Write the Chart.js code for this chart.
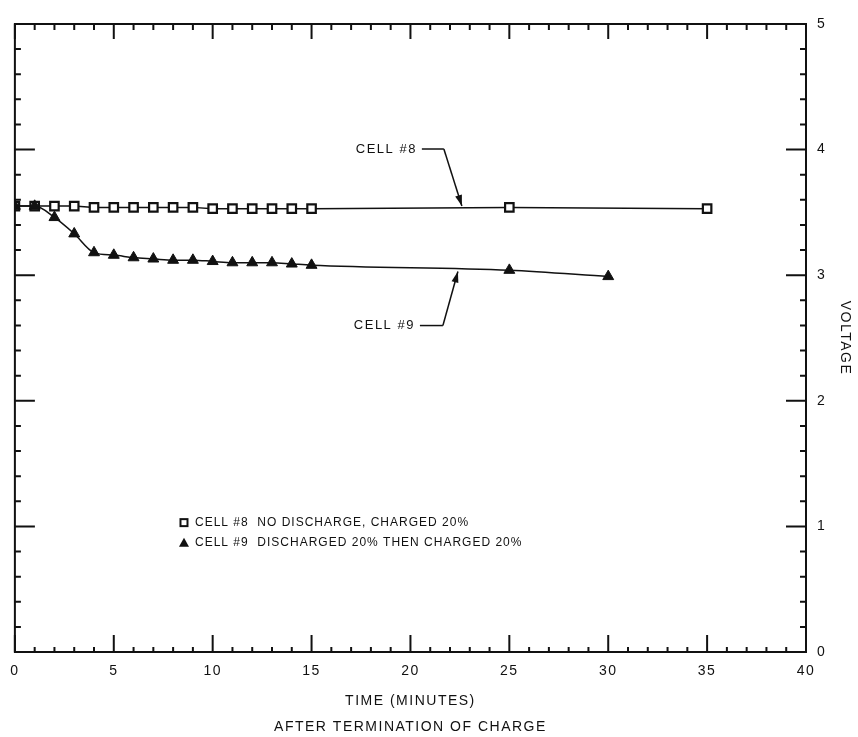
<!DOCTYPE html>
<html><head><meta charset="utf-8">
<script src="https://cdn.jsdelivr.net/npm/chart.js@4"></script>
<style>html,body{margin:0;padding:0;background:#fff;}#wrap{width:858px;height:737px;}</style>
</head><body><div id="wrap"><canvas id="c" width="858" height="737"></canvas></div>
<script>
// ---- data ----
const cell8Minutes = [0,1,2,3,4,5,6,7,8,9,10,11,12,13,14,15,25,35];
const cell8Volts   = [3.55,3.55,3.55,3.55,3.54,3.54,3.54,3.54,3.54,3.54,3.53,3.53,3.53,3.53,3.53,3.53,3.54,3.53];
const cell9Minutes = [0,1,2,3,4,5,6,7,8,9,10,11,12,13,14,15,25,30];
const cell9Volts   = [3.55,3.55,3.46,3.33,3.18,3.16,3.14,3.13,3.12,3.12,3.11,3.10,3.10,3.10,3.09,3.08,3.04,2.99];
const xTickValues = [0,5,10,15,20,25,30,35,40];
const yTickValues = [0,1,2,3,4,5];
const legendLabels = ['CELL #8  NO DISCHARGE, CHARGED 20%', 'CELL #9  DISCHARGED 20% THEN CHARGED 20%'];
const calloutLabels = ['CELL #8', 'CELL #9'];
const xTitle = ['TIME (MINUTES)', 'AFTER TERMINATION OF CHARGE'];
const yTitle = 'VOLTAGE';

const FONT = '"Liberation Sans", Arial, Helvetica, sans-serif';
const INK = '#111';

function toPoints(xs, ys){ return xs.map((x,i)=>({x:x, y:ys[i]})); }

const inkPlugin = {
  id: 'ink',
  beforeDraw(chart){ chart.ctx.letterSpacing = '1.5px'; },
  afterDraw(chart){
    const ctx = chart.ctx, a = chart.chartArea;
    const xs = chart.scales.x, ys = chart.scales.y;
    ctx.save();
    ctx.letterSpacing = '0px';
    ctx.strokeStyle = INK; ctx.fillStyle = INK; ctx.lineWidth = 2;
    // frame
    ctx.strokeRect(a.left, a.top, a.right - a.left, a.bottom - a.top);
    // x ticks (inward), minor every minute, major every 5
    ctx.beginPath();
    for (let m = xs.min; m <= xs.max; m++) {
      const px = xs.getPixelForValue(m);
      const major = m % 5 === 0;
      ctx.moveTo(px, a.bottom); ctx.lineTo(px, a.bottom - (major ? 17 : 5));
      ctx.moveTo(px, a.top); ctx.lineTo(px, a.top + (major ? 15 : 6));
    }
    // y ticks every 0.2, major every 1
    for (let k = 0; k <= 25; k++) {
      const v = k / 5;
      const py = ys.getPixelForValue(v);
      const major = k % 5 === 0;
      ctx.moveTo(a.left, py); ctx.lineTo(a.left + (major ? 20 : 6), py);
      ctx.moveTo(a.right, py); ctx.lineTo(a.right - (major ? 20 : 6), py);
    }
    ctx.stroke();

    // callouts
    ctx.font = '13px ' + FONT;
    ctx.letterSpacing = '1.5px';
    ctx.textBaseline = 'middle';
    ctx.textAlign = 'right';
    ctx.lineWidth = 1.5;
    function arrow(x1,y1,x2,y2){
      ctx.beginPath(); ctx.moveTo(x1,y1); ctx.lineTo(x2,y2); ctx.stroke();
      const ang = Math.atan2(y2-y1, x2-x1), L = 11, W = 3.5;
      ctx.beginPath();
      ctx.moveTo(x2,y2);
      ctx.lineTo(x2 - L*Math.cos(ang) + W*Math.sin(ang), y2 - L*Math.sin(ang) - W*Math.cos(ang));
      ctx.lineTo(x2 - L*Math.cos(ang) - W*Math.sin(ang), y2 - L*Math.sin(ang) + W*Math.cos(ang));
      ctx.closePath(); ctx.fill();
    }
    // CELL #8
    let tx = xs.getPixelForValue(22.6), ty = ys.getPixelForValue(3.535) - 2;
    let ly = ty - 57;
    ctx.fillText(calloutLabels[0], tx - 45, ly);
    ctx.beginPath(); ctx.moveTo(tx - 40, ly); ctx.lineTo(tx - 18, ly); ctx.stroke();
    arrow(tx - 18, ly, tx, ty);
    // CELL #9
    tx = xs.getPixelForValue(22.4); ty = ys.getPixelForValue(3.045) + 2;
    ly = ty + 54;
    ctx.fillText(calloutLabels[1], tx - 43, ly);
    ctx.beginPath(); ctx.moveTo(tx - 38, ly); ctx.lineTo(tx - 15, ly); ctx.stroke();
    arrow(tx - 15, ly, tx, ty);

    // legend (inside plot)
    ctx.font = '12px ' + FONT;
    ctx.letterSpacing = '1px';
    const lx = xs.getPixelForValue(8.55);
    const ly1 = ys.getPixelForValue(1.03), ly2 = ly1 + 20;
    ctx.textAlign = 'left';
    ctx.lineWidth = 2;
    ctx.fillStyle = '#fff';
    ctx.fillRect(lx - 3.5, ly1 - 3.5, 7, 7);
    ctx.strokeRect(lx - 3.5, ly1 - 3.5, 7, 7);
    ctx.fillStyle = INK;
    ctx.beginPath(); ctx.moveTo(lx, ly2 - 5); ctx.lineTo(lx + 5, ly2 + 4); ctx.lineTo(lx - 5, ly2 + 4); ctx.closePath(); ctx.fill();
    ctx.fillText(legendLabels[0], lx + 11, ly1);
    ctx.fillText(legendLabels[1], lx + 11, ly2);
    ctx.restore();
  }
};

new Chart(document.getElementById('c'), {
  type: 'line',
  data: {
    datasets: [
      { label: legendLabels[0], data: toPoints(cell8Minutes, cell8Volts), order: 2,
        borderColor: INK, borderWidth: 1.5, tension: 0,
        pointStyle: 'rect', pointRadius: 6, pointBorderWidth: 2.2,
        pointBackgroundColor: '#fff', pointBorderColor: INK },
      { label: legendLabels[1], data: toPoints(cell9Minutes, cell9Volts), order: 1,
        borderColor: INK, borderWidth: 1.5, cubicInterpolationMode: 'monotone',
        pointStyle: 'triangle', pointRadius: 6.3, pointBorderWidth: 1,
        pointBackgroundColor: INK, pointBorderColor: INK }
    ]
  },
  options: {
    responsive: false, animation: false, devicePixelRatio: 1,
    layout: { padding: { left: 12, top: 24, right: 0, bottom: 0 } },
    plugins: { legend: { display: false }, tooltip: { enabled: false } },
    scales: {
      x: {
        type: 'linear', min: 0, max: 40,
        grid: { display: false, drawTicks: false }, border: { display: false },
        afterBuildTicks: s => { s.ticks = xTickValues.map(v => ({ value: v })); },
        afterFit: s => { s.height = 85; },
        ticks: { color: INK, font: { family: FONT, size: 14 }, padding: 11, maxRotation: 0, autoSkip: false },
        title: { display: true, text: xTitle, color: INK, font: { family: FONT, size: 14, lineHeight: '26px' }, padding: { top: 0, bottom: -3 } }
      },
      y: {
        type: 'linear', position: 'right', min: 0, max: 5,
        grid: { display: false, drawTicks: false }, border: { display: false },
        afterBuildTicks: s => { s.ticks = yTickValues.map(v => ({ value: v })); },
        afterFit: s => { s.width = 52; },
        ticks: { color: INK, font: { family: FONT, size: 14 }, padding: 11, autoSkip: false },
        title: { display: true, text: yTitle, color: INK, font: { family: FONT, size: 14 }, padding: { top: 5, bottom: 0 } }
      }
    }
  },
  plugins: [inkPlugin]
});
</script>
</body></html>
